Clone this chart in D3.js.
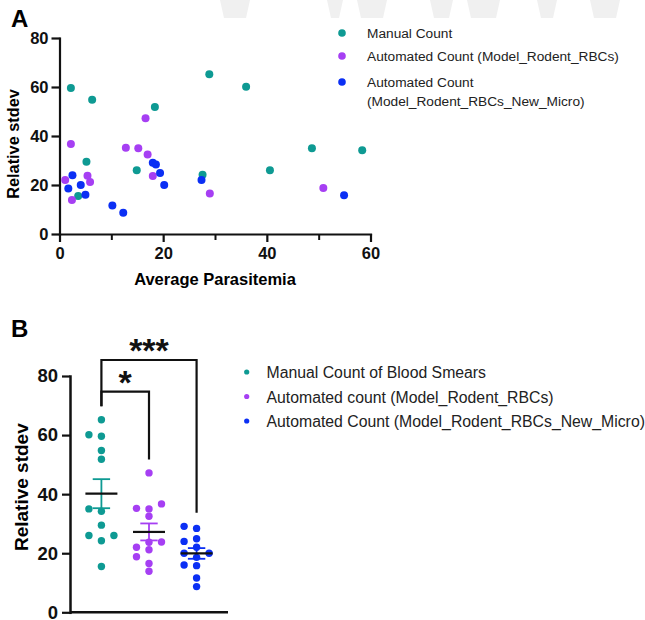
<!DOCTYPE html>
<html>
<head>
<meta charset="utf-8">
<script src="https://cdn.jsdelivr.net/npm/d3@7"></script>
<style>
  body { margin: 0; background: #fff; }
  text { font-family: "Liberation Sans", Arial, sans-serif; }
</style>
</head>
<body>
<svg id="chart" width="645" height="620"></svg>
<script>
// series (x = average parasitemia, y = relative stdev)
const manualX = [2.2, 6.3, 18.4, 5.2, 3.6, 14.9, 28.9, 36.0, 48.7, 58.4, 40.6, 27.6]
const manualY = [59.6, 54.8, 51.8, 29.5, 15.5, 26.0, 65.2, 60.1, 35.0, 34.2, 26.0, 24.2]
const rbcX = [2.2, 12.8, 15.2, 16.6, 1.1, 2.4, 5.4, 5.9, 17.0, 18.0, 29.0, 50.9]
const rbcY = [36.7, 35.2, 35.0, 47.2, 22.0, 13.9, 23.8, 21.2, 32.5, 23.7, 16.5, 18.8]
const microX = [1.7, 2.5, 4.1, 5.0, 10.2, 12.3, 18.0, 18.6, 19.4, 20.2, 27.4, 54.9]
const microY = [18.6, 24.0, 20.0, 16.0, 11.6, 8.7, 29.1, 28.4, 24.9, 20.0, 22.0, 15.8]

const legendA = [['Manual Count'], ['Automated Count (Model_Rodent_RBCs)'], ['Automated Count', '(Model_Rodent_RBCs_New_Micro)']]
const legendB = ['Manual Count of Blood Smears', 'Automated count (Model_Rodent_RBCs)', 'Automated Count (Model_Rodent_RBCs_New_Micro)']
const yTicks = [0, 20, 40, 60, 80]
const xTicks = [0, 20, 40, 60]
const xMinorTicks = [10, 30, 50]
const comparisons = [
  { from: 0, to: 1, label: '*' },
  { from: 0, to: 2, label: '***' }
]

const colors = ['#0e9a93', '#a63ff3', '#0b2ff4']
const series = [
  { x: manualX, y: manualY },
  { x: rbcX, y: rbcY },
  { x: microX, y: microY }
]

const svg = d3.select('#chart')
const font = '"Liberation Sans", Arial, sans-serif'

// faint watermark fragments along the top edge of the scan
const marks = svg.append('g').attr('fill', '#f0f0f0')
;[[220, 250], [327, 343], [357, 387], [430, 453], [467, 500], [537, 557], [590, 620]].forEach(([a, b]) => {
  marks.append('path').attr('d', `M${a},0H${b}L${b - 4},18H${a + 4}Z`)
})

function styleAxis (g, size) {
  g.select('.domain').attr('stroke', '#111').attr('stroke-width', 2.2).attr('stroke-linecap', 'square')
  g.selectAll('.tick line').attr('stroke', '#111').attr('stroke-width', 2.2)
  g.selectAll('.tick text')
    .attr('fill', '#111')
    .attr('font-size', size)
    .attr('font-weight', 'bold')
    .attr('font-family', font)
}

// ---------- Panel A : scatter ----------
const xA = d3.scaleLinear().domain([0, 60]).range([59.5, 370.5])
const yA = d3.scaleLinear().domain([0, 80]).range([234, 38])

svg.append('text').attr('x', 11).attr('y', 27)
  .attr('font-size', 24).attr('font-weight', 'bold').text('A')

const gxA = svg.append('g').attr('transform', `translate(0,${yA(0)})`)
  .call(d3.axisBottom(xA).tickValues(xTicks).tickSize(8).tickSizeOuter(0).tickPadding(5))
styleAxis(gxA, 16.5)
const gxMinor = svg.append('g').attr('transform', `translate(0,${yA(0)})`)
  .call(d3.axisBottom(xA).tickValues(xMinorTicks).tickSize(6).tickFormat(''))
gxMinor.select('.domain').remove()
gxMinor.selectAll('.tick line').attr('stroke', '#111').attr('stroke-width', 2)

const gyA = svg.append('g').attr('transform', `translate(${xA(0)},0)`)
  .call(d3.axisLeft(yA).tickValues(yTicks).tickSize(8).tickSizeOuter(0).tickPadding(3))
styleAxis(gyA, 16.5)

svg.append('text')
  .attr('transform', `translate(19,${(yA(0) + yA(80)) / 2 + 8}) rotate(-90)`)
  .attr('text-anchor', 'middle').attr('font-size', 16.3).attr('font-weight', 'bold')
  .text('Relative stdev')
svg.append('text').attr('x', (xA(0) + xA(60)) / 2).attr('y', 285)
  .attr('text-anchor', 'middle').attr('font-size', 16.5).attr('font-weight', 'bold')
  .text('Average Parasitemia')

series.forEach((s, k) => {
  svg.append('g').selectAll('circle')
    .data(s.x.map((d, i) => [d, s.y[i]]))
    .join('circle')
    .attr('cx', d => xA(d[0]))
    .attr('cy', d => yA(d[1]))
    .attr('r', 4)
    .attr('fill', colors[k])
})

const legA = svg.append('g')
const legAy = [33, 56, 82]
legendA.forEach((lines, k) => {
  legA.append('circle').attr('cx', 342).attr('cy', legAy[k]).attr('r', 3.8).attr('fill', colors[k])
  lines.forEach((t, j) => {
    legA.append('text').attr('x', 367).attr('y', legAy[k] + 5 + j * 18.5)
      .attr('font-size', 13.7).attr('fill', '#222').text(t)
  })
})

// ---------- Panel B : scatter dot plot with mean ± SEM ----------
const xB = d3.scalePoint().domain(d3.range(3)).range([70, 228]).padding(0.66)
const yB = d3.scaleLinear().domain([0, 80]).range([612.3, 376])

svg.append('text').attr('x', 11).attr('y', 337)
  .attr('font-size', 24).attr('font-weight', 'bold').text('B')

const gyB = svg.append('g').attr('transform', 'translate(70,0)')
  .call(d3.axisLeft(yB).tickValues(yTicks).tickSize(8).tickSizeOuter(0).tickPadding(4))
styleAxis(gyB, 18.5)
gyB.select('.domain').attr('stroke-width', 2.5)
svg.append('line').attr('x1', 70).attr('x2', 228).attr('y1', yB(0)).attr('y2', yB(0))
  .attr('stroke', '#111').attr('stroke-width', 2.5)

svg.append('text')
  .attr('transform', `translate(28,${(yB(0) + yB(80)) / 2 - 7}) rotate(-90)`)
  .attr('text-anchor', 'middle').attr('font-size', 19).attr('font-weight', 'bold')
  .text('Relative stdev')

// simple beeswarm: place points bottom-up, shifting sideways on overlap
function swarm (values, y, step, minDist) {
  const order = d3.range(values.length).sort((a, b) => values[a] - values[b])
  const placed = []
  const offsets = new Array(values.length).fill(0)
  order.forEach(i => {
    const py = y(values[i])
    for (const c of [0, -1, 1, -2, 2]) {
      const dx = c * step
      if (!placed.some(p => Math.hypot(p.dx - dx, p.py - py) < minDist)) {
        offsets[i] = dx
        placed.push({ dx, py })
        break
      }
    }
  })
  return offsets
}

series.forEach((s, k) => {
  const cx = xB(k)
  const offs = swarm(s.y, yB, 12.5, 7.3)
  svg.append('g').selectAll('circle')
    .data(s.y)
    .join('circle')
    .attr('cx', (d, i) => cx + offs[i])
    .attr('cy', d => yB(d))
    .attr('r', 3.7)
    .attr('fill', colors[k])

  const mean = d3.mean(s.y)
  const sem = d3.deviation(s.y) / Math.sqrt(s.y.length)
  const eb = svg.append('g').attr('stroke', colors[k]).attr('stroke-width', 1.8)
  eb.append('line').attr('x1', cx).attr('x2', cx).attr('y1', yB(mean - sem)).attr('y2', yB(mean + sem))
  ;[mean - sem, mean + sem].forEach(v => {
    eb.append('line').attr('x1', cx - 8.7).attr('x2', cx + 8.7).attr('y1', yB(v)).attr('y2', yB(v))
  })
  svg.append('line').attr('x1', cx - 16).attr('x2', cx + 16).attr('y1', yB(mean)).attr('y2', yB(mean))
    .attr('stroke', '#111').attr('stroke-width', 2.2)
})

// significance brackets
const legEnd = k => yB(d3.max(series[k].y)) - 13.5
let level = null
comparisons.forEach(c => {
  const top = level === null
    ? Math.min(yB(d3.max(series[c.from].y)), yB(d3.max(series[c.to].y))) - 28
    : level - 31.7
  level = top
  const x1 = xB(c.from)
  const x2 = xB(c.to)
  svg.append('path')
    .attr('d', `M${x1},${legEnd(c.from)}V${top}H${x2}V${legEnd(c.to)}`)
    .attr('fill', 'none').attr('stroke', '#111').attr('stroke-width', 2.2)
  svg.append('text').attr('x', (x1 + x2) / 2).attr('y', top + 2)
    .attr('text-anchor', 'middle').attr('font-size', 34).attr('font-weight', 'bold')
    .attr('fill', '#111').text(c.label)
})

const legB = svg.append('g')
legendB.forEach((t, k) => {
  const cy = 372 + k * 24.5
  legB.append('circle').attr('cx', 246.7).attr('cy', cy).attr('r', 2.6).attr('fill', colors[k])
  legB.append('text').attr('x', 266.5).attr('y', cy + 6).attr('font-size', 15.8).attr('fill', '#222').text(t)
})
</script>
</body>
</html>
